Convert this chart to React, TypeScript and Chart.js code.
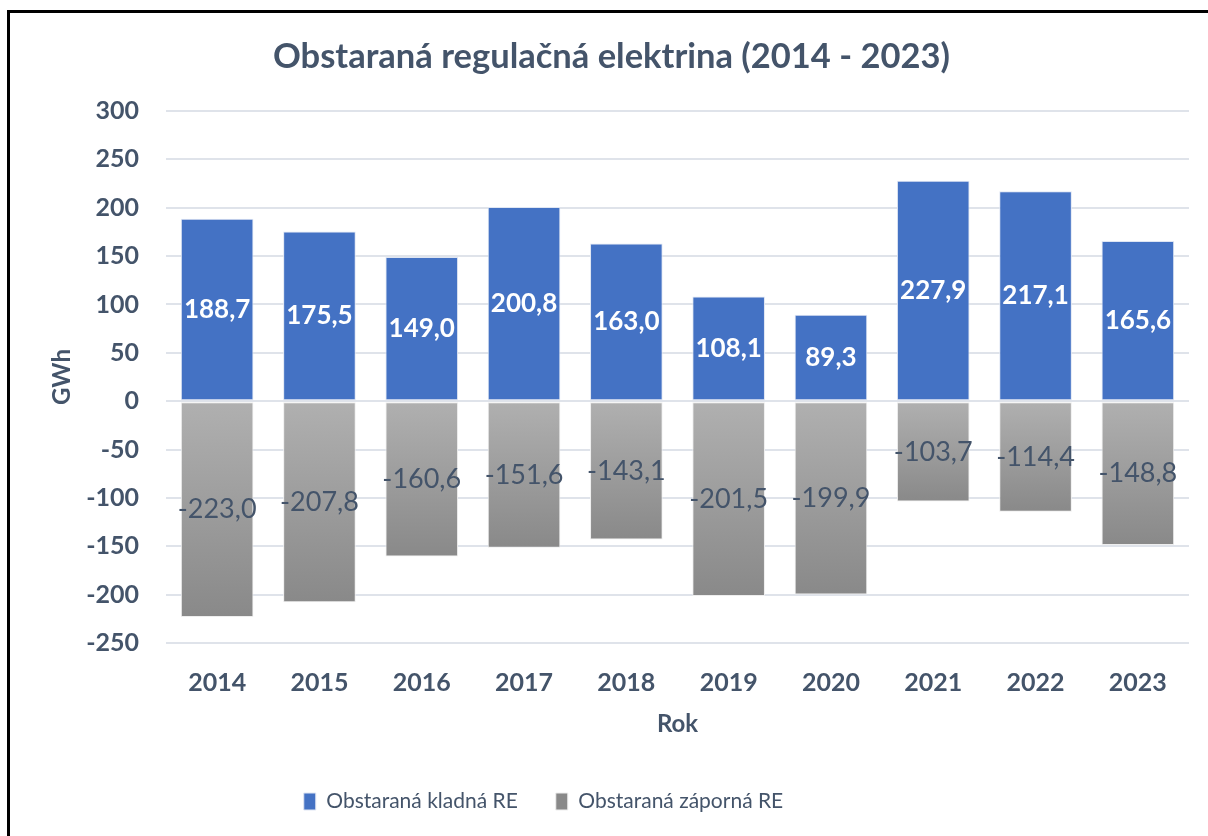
import React, { useEffect, useRef } from "react";
import { Chart, registerables } from "chart.js";

Chart.register(...registerables);

const years = ["2014", "2015", "2016", "2017", "2018", "2019", "2020", "2021", "2022", "2023"];
const positiveRE = [188.7, 175.5, 149.0, 200.8, 163.0, 108.1, 89.3, 227.9, 217.1, 165.6];
const negativeRE = [-223.0, -207.8, -160.6, -151.6, -143.1, -201.5, -199.9, -103.7, -114.4, -148.8];
const seriesNames = ["Obstaraná kladná RE", "Obstaraná záporná RE"];
const chartTitle = "Obstaraná regulačná elektrina (2014 - 2023)";
const yTitle = "GWh";
const xTitle = "Rok";

const TEXT = "#44546a";
const FONT = "Lato";

const labelPlugin = {
  id: "barValueLabels",
  afterLayout(chart: any) {
    if (chart.legend) {
      chart.legend.left -= 61;
      chart.legend.right -= 61;
    }
    if (chart.titleBlock) {
      chart.titleBlock.left += 7;
      chart.titleBlock.right += 7;
    }
  },
  afterDatasetsDraw(chart: any) {
    const ctx = chart.ctx;
    chart.data.datasets.forEach((ds: any, di: number) => {
      const meta = chart.getDatasetMeta(di);
      meta.data.forEach((el: any, i: number) => {
        const v = ds.data[i];
        const text = v.toFixed(1).replace(".", ",");
        const x = el.x;
        const y = (el.y + el.base) / 2;
        ctx.save();
        ctx.textAlign = "center";
        ctx.textBaseline = "middle";
        if (di === 0) {
          ctx.fillStyle = "#ffffff";
          ctx.font = `bold 26px ${FONT}`;
        } else {
          ctx.fillStyle = TEXT;
          ctx.font = `27px ${FONT}`;
        }
        ctx.fillText(text, x, y);
        ctx.restore();
      });
    });
  },
};

export default function App() {
  const ref = useRef<HTMLCanvasElement | null>(null);

  useEffect(() => {
    document.body.style.margin = "0";
    const canvas = ref.current;
    if (!canvas) return;
    const grayFill = (c: any) => {
      const chart = c.chart;
      if (!chart.chartArea || c.raw === undefined) return "#a2a2a2";
      const ys = chart.scales.y;
      const y0 = ys.getPixelForValue(0);
      const y1 = ys.getPixelForValue(c.raw);
      const g = chart.ctx.createLinearGradient(0, y0, 0, y1);
      g.addColorStop(0, "#b0b0b0");
      g.addColorStop(1, "#898989");
      return g;
    };
    const chart = new Chart(canvas, {
      type: "bar",
      data: {
        labels: years,
        datasets: [
          {
            label: seriesNames[0],
            data: positiveRE,
            backgroundColor: "#4472c4",
            borderColor: "#dfe6f3",
            borderWidth: 1,
            borderSkipped: false,
            categoryPercentage: 1,
            barPercentage: 0.71,
          },
          {
            label: seriesNames[1],
            data: negativeRE,
            backgroundColor: grayFill,
            borderColor: "#eeeeee",
            borderWidth: 1,
            borderSkipped: false,
            categoryPercentage: 1,
            barPercentage: 0.71,
          },
        ],
      },
      options: {
        responsive: false,
        animation: false,
        devicePixelRatio: 1,
        layout: { padding: { left: 20, right: 19, top: 0, bottom: 14 } },
        plugins: {
          title: {
            display: true,
            text: chartTitle,
            color: TEXT,
            font: { family: FONT, size: 34.5, weight: "bold", lineHeight: 1.2 },
            padding: { top: 36.3, bottom: 33.3 },
          },
          legend: {
            position: "bottom",
            labels: {
              color: TEXT,
              font: { family: FONT, size: 21, lineHeight: 1.2 },
              boxWidth: 12,
              boxHeight: 17,
              padding: 38,
            },
          },
          tooltip: { enabled: false },
        },
        scales: {
          x: {
            stacked: true,
            grid: { display: false, drawTicks: false },
            border: { display: false },
            ticks: {
              color: TEXT,
              font: { family: FONT, size: 25, weight: "bold" },
              padding: 25,
            },
            title: {
              display: true,
              text: xTitle,
              color: TEXT,
              font: { family: FONT, size: 24, weight: "bold", lineHeight: 1.2 },
              padding: { top: 0, bottom: 14.6 },
            },
            afterFit(scale: any) {
              scale.height = 110;
            },
          },
          y: {
            stacked: true,
            min: -250,
            max: 300,
            grid: { color: "#dfe3ea", lineWidth: 2, drawTicks: false },
            border: { display: false },
            ticks: {
              stepSize: 50,
              color: TEXT,
              font: { family: FONT, size: 25, weight: "bold" },
              padding: 27,
            },
            title: {
              display: true,
              text: yTitle,
              color: TEXT,
              font: { family: FONT, size: 24, weight: "bold", lineHeight: 1.2 },
              padding: { top: 27.6, bottom: 0 },
            },
            afterFit(scale: any) {
              scale.width = 146;
            },
          },
        },
      },
      plugins: [labelPlugin],
    });
    return () => chart.destroy();
  }, []);

  return (
    <div style={{ position: "relative", width: 1208, height: 836, overflow: "hidden", background: "#fff" }}>
      <canvas ref={ref} width={1208} height={836} style={{ display: "block", width: 1208, height: 836 }} />
      <div
        style={{
          position: "absolute",
          left: 7,
          top: 10,
          width: 1300,
          height: 900,
          borderLeft: "3px solid #000",
          borderTop: "3px solid #000",
          pointerEvents: "none",
        }}
      />
    </div>
  );
}
